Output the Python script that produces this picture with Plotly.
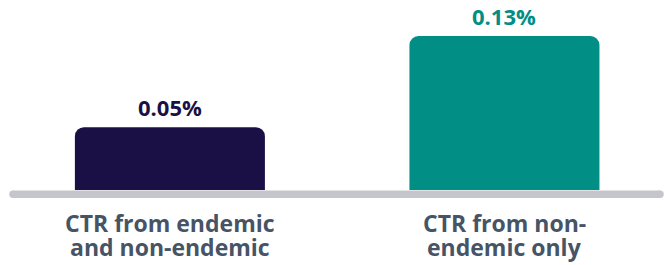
import plotly.graph_objects as go

categories = ["CTR from endemic\nand non-endemic", "CTR from non-\nendemic only"]
values = [0.053, 0.13]
value_labels = ["0.05%", "0.13%"]
bar_colors = ["#1a1045", "#008e85"]

positions = list(range(len(categories)))

fig = go.Figure()
fig.add_trace(go.Bar(
    x=positions, y=values, width=0.568,
    marker=dict(color=bar_colors, cornerradius=9, line=dict(width=0)),
    hoverinfo="skip",
))

for p, v, lab, c in zip(positions, values, value_labels, bar_colors):
    fig.add_annotation(x=p, y=v, text=lab, showarrow=False,
                       yanchor="bottom", yshift=3,
                       font=dict(family="Open Sans", size=22, color=c, weight=700))

# category labels, one annotation per line for tight line spacing
label_font = dict(family="Open Sans", size=23, color="#465466", weight=700)
for p, cat in zip(positions, categories):
    for i, line in enumerate(cat.split("\n")):
        fig.add_annotation(x=p, xref="x", y=0, yref="paper", text=line,
                           showarrow=False, yanchor="top", yshift=-14.5 - 24 * i,
                           font=label_font)

# baseline
base_color = "#c5c5cc"
fig.add_shape(type="rect", xref="paper", yref="paper", x0=0, x1=1,
              ysizemode="pixel", yanchor=0, y0=-8, y1=-0.5,
              fillcolor=base_color, line=dict(width=0), layer="below")
for xa in (0, 1):
    fig.add_shape(type="circle", xref="paper", yref="paper",
                  xsizemode="pixel", ysizemode="pixel", xanchor=xa, yanchor=0,
                  x0=-3.75, x1=3.75, y0=-8, y1=-0.5,
                  fillcolor=base_color, line=dict(width=0), layer="below")

fig.update_layout(
    width=670, height=265,
    margin=dict(l=13, r=10, t=0, b=75),
    paper_bgcolor="white", plot_bgcolor="white",
    showlegend=False,
    xaxis=dict(range=[-0.469, 1.465], showticklabels=False,
               showgrid=False, zeroline=False, showline=False, ticks=""),
    yaxis=dict(range=[0, 0.1604], visible=False, showgrid=False, zeroline=False),
)

fig.write_html("out.html", config={"displayModeBar": False},
               post_script="document.body.style.margin='0';document.body.style.overflow='hidden';")
